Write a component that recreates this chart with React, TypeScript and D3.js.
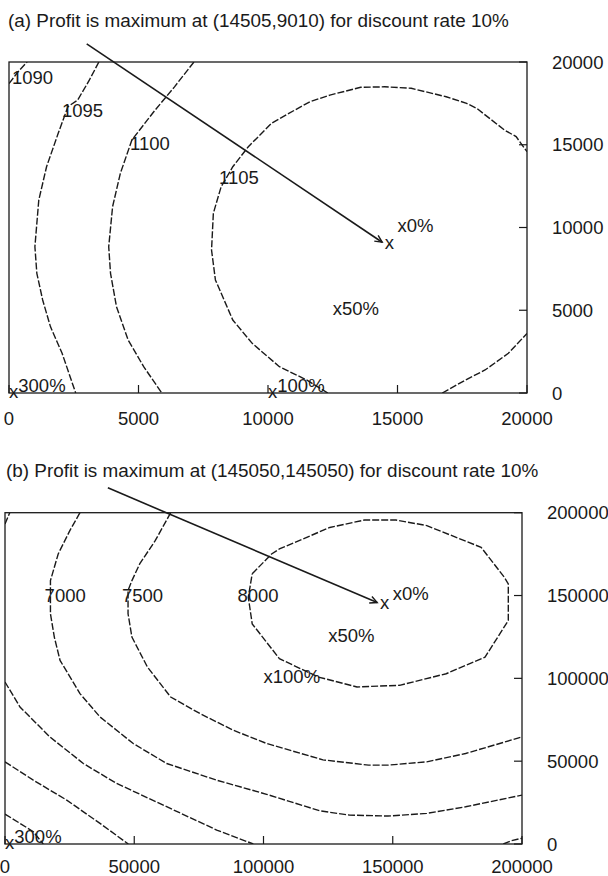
import React from "react";
import * as d3 from "d3";

// ---------- data ----------
const TITLE_A = "(a) Profit is maximum at (14505,9010) for discount rate 10%";
const TITLE_B = "(b) Profit is maximum at (145050,145050) for discount rate 10%";

const DOMAIN_A: [number, number] = [0, 20000];
const DOMAIN_B: [number, number] = [0, 200000];
const TICKS_A = [0, 5000, 10000, 15000, 20000];
const TICKS_B = [0, 50000, 100000, 150000, 200000];

// panel (a) contour lines (profit levels)
const A_1090 = [[0, 18700], [400, 19500], [700, 20000]];
const A_1095 = [
  [3470, 20000], [3100, 18900], [2650, 17700], [2275, 17300], [1900, 15690], [1450, 13670],
  [1150, 11660], [1000, 8840], [1075, 7230], [1300, 5620], [1600, 4010], [2050, 2400], [2575, 0],
];
const A_1100 = [
  [7140, 20000], [6390, 18500], [5645, 17100], [5345, 16500], [4745, 15290], [4300, 13275],
  [4000, 11260], [3850, 8840], [3920, 7230], [4150, 5215], [4600, 3200], [5200, 1590], [5900, 0],
];
const A_1105 = [
  [12310, 0], [11490, 790], [10440, 1590], [9390, 3000], [8640, 4410], [7970, 6830], [7820, 8640],
  [7890, 10860], [8190, 12460], [8640, 13670], [9240, 14880], [10140, 16300], [11040, 17100],
  [11620, 17600], [12390, 18000], [13580, 18470], [14500, 18500], [15530, 18410], [16880, 17900],
  [17670, 17500], [18060, 17200], [19130, 15890], [19580, 15490], [20000, 14580],
];
const A_1105_LOW = [[16730, 0], [17630, 790], [18380, 1390], [19280, 2400], [20000, 3600]];
const A_LINES = [A_1090, A_1095, A_1100, A_1105, A_1105_LOW];
const A_LEVEL_TEXT = ["1090", "1095", "1100", "1105"];
const A_LEVEL_POS = [[116, 19094], [2046, 17100], [4672, 15088], [8108, 13051]];

// panel (b) contour lines
const B_5500 = [[0, 18070], [5800, 12450], [10950, 7430], [14800, 0]];
const B_6000 = [[0, 49600], [10950, 38550], [23870, 26500], [36750, 12450], [47700, 0]];
const B_6500 = [
  [0, 97800], [5800, 82700], [17400, 64600], [30300, 48600], [43200, 36550], [62550, 22500],
  [81900, 8430], [96050, 0],
];
const B_6500_TOP = [[0, 193200], [1820, 200000]];
const B_6500_CORNER = [[192770, 0], [196000, 2000], [200000, 3500]];
const B_7000 = [
  [29000, 200000], [25080, 189200], [20580, 175100], [17580, 159000], [17580, 139000],
  [19080, 124900], [21300, 110840], [29000, 90800], [36750, 76700], [49600, 60660],
  [62550, 48600], [81900, 38500], [101200, 30000], [121850, 20000], [133150, 17470],
  [148160, 16870], [163170, 18490], [178180, 22470], [200000, 29500],
];
const B_7500 = [
  [64100, 200000], [58100, 183100], [52100, 169100], [49100, 159000], [47600, 153000],
  [47600, 139000], [49100, 124900], [55100, 106800], [64100, 88700], [75430, 78730],
  [88320, 68670], [101240, 60660], [123000, 50800], [140660, 47600], [148160, 47600],
  [163170, 49600], [178180, 54640], [200000, 64640],
];
const B_8000 = [
  [95630, 163100], [103130, 175100], [106150, 178100], [125650, 191100], [139150, 195600],
  [151180, 195600], [163180, 192200], [184180, 179100], [193190, 161000], [194700, 157000],
  [194700, 134900], [185690, 112800], [170680, 102800], [152650, 95800], [136170, 94800],
  [121160, 100800], [106150, 111900], [95630, 132900], [94120, 149000], [95630, 163100],
];
const B_LINES = [B_5500, B_6000, B_6500, B_6500_TOP, B_6500_CORNER, B_7000, B_7500, B_8000];
const B_LEVEL_TEXT = ["7000", "7500", "8000"];
const B_LEVEL_POS = [[15320, 150000], [45260, 150000], [89940, 150000]];

// optimum locations for several discount rates
const RATE_TEXT = ["0%", "50%", "100%", "300%"];
const A_RATE_POS = [[15000, 10000], [12500, 5000], [10000, 0], [0, 0]];
const B_RATE_POS = [[150000, 150000], [125000, 125000], [100000, 100000], [0, 0]];

const A_MAX = [14505, 9010];
const B_MAX = [145050, 145050];
const A_ARROW_FROM = [3000, 21100];
const B_ARROW_FROM = [39800, 215000];

// ---------- layout / style ----------
const W = 608;
const H = 876;
const FONT = "'Liberation Sans', Arial, Helvetica, sans-serif";
const FS = 18.5;
const FS_TITLE = 18.9;
const INK = "#1a1a1a";

type Layout = {
  left: number; right: number; top: number; bottom: number;
  titleX: number; titleY: number; xLabelDy: number;
};
const LAYOUT_A: Layout = { left: 9, right: 527, top: 62, bottom: 393, titleX: 8, titleY: 26.6, xLabelDy: 31.6 };
const LAYOUT_B: Layout = { left: 5, right: 522, top: 512.7, bottom: 844, titleX: 6, titleY: 476.6, xLabelDy: 29.3 };

type PanelProps = {
  id: string;
  layout: Layout;
  title: string;
  domain: [number, number];
  ticks: number[];
  lines: number[][][];
  levelText: string[];
  levelPos: number[][];
  ratePos: number[][];
  maxPt: number[];
  arrowFrom: number[];
};

function Panel(p: PanelProps) {
  const { layout: L } = p;
  const x = d3.scaleLinear().domain(p.domain).range([L.left, L.right]);
  const y = d3.scaleLinear().domain(p.domain).range([L.bottom, L.top]);
  const line = d3
    .line<number[]>()
    .x((d) => x(d[0]))
    .y((d) => y(d[1]))
    .curve(d3.curveLinear);

  // arrow geometry
  const ax0 = x(p.arrowFrom[0]);
  const ay0 = y(p.arrowFrom[1]);
  const mx = x(p.maxPt[0]);
  const my = y(p.maxPt[1]);
  const len = Math.hypot(mx - ax0, my - ay0);
  const ux = (mx - ax0) / len;
  const uy = (my - ay0) / len;
  const tipX = mx - ux * 3;
  const tipY = my - uy * 3;
  const head = 8;
  const ang = Math.atan2(uy, ux);
  const h1 = [tipX - head * Math.cos(ang - 0.45), tipY - head * Math.sin(ang - 0.45)];
  const h2 = [tipX - head * Math.cos(ang + 0.45), tipY - head * Math.sin(ang + 0.45)];
  const tickLen = 8;

  return (
    <g>
      <defs>
        <clipPath id={`clip-${p.id}`}>
          <rect x={L.left} y={L.top} width={L.right - L.left} height={L.bottom - L.top} />
        </clipPath>
      </defs>
      <text x={L.titleX} y={L.titleY} fontSize={FS_TITLE} fill={INK}>
        {p.title}
      </text>
      {/* contours */}
      <g clipPath={`url(#clip-${p.id})`}>
        {p.lines.map((pts, i) => (
          <path
            key={i}
            d={line(pts) || ""}
            fill="none"
            stroke={INK}
            strokeWidth={1.4}
            strokeDasharray="7 2"
          />
        ))}
      </g>
      {/* frame */}
      <rect
        x={L.left}
        y={L.top}
        width={L.right - L.left}
        height={L.bottom - L.top}
        fill="none"
        stroke={INK}
        strokeWidth={1.3}
      />
      {/* bottom axis ticks and labels */}
      {p.ticks.map((t) => (
        <g key={`bx${t}`}>
          <line x1={x(t)} x2={x(t)} y1={L.bottom} y2={L.bottom - tickLen} stroke={INK} strokeWidth={1.2} />
          <text x={x(t)} y={L.bottom + L.xLabelDy} fontSize={FS} fill={INK} textAnchor="middle">
            {t}
          </text>
        </g>
      ))}
      {/* right axis ticks and labels */}
      {p.ticks.map((t) => (
        <g key={`ry${t}`}>
          <line x1={L.right} x2={L.right - tickLen} y1={y(t)} y2={y(t)} stroke={INK} strokeWidth={1.2} />
          <text x={L.right + 25} y={y(t) + 6.6} fontSize={FS} fill={INK}>
            {t}
          </text>
        </g>
      ))}
      {/* level labels */}
      {p.levelText.map((s, i) => (
        <text key={`lv${i}`} x={x(p.levelPos[i][0])} y={y(p.levelPos[i][1]) + 6.6} fontSize={FS} fill={INK}>
          {s}
        </text>
      ))}
      {/* optimum markers for each discount rate */}
      {RATE_TEXT.map((s, i) => {
        const px = x(p.ratePos[i][0]);
        const py = y(p.ratePos[i][1]);
        const onEdge = p.ratePos[i][1] === 0;
        return (
          <g key={`r${i}`}>
            <text x={px} y={py + 4.8} fontSize={FS} fill={INK}>
              x
            </text>
            <text x={px + 9.3} y={onEdge ? py - 1.3 : py + 4.8} fontSize={FS} fill={INK}>
              {s}
            </text>
          </g>
        );
      })}
      {/* maximum at 10% */}
      <text x={mx} y={my + 4.8} fontSize={FS} fill={INK}>
        x
      </text>
      {/* arrow */}
      <line x1={ax0} y1={ay0} x2={tipX} y2={tipY} stroke={INK} strokeWidth={1.6} />
      <polyline
        points={`${h1[0]},${h1[1]} ${tipX},${tipY} ${h2[0]},${h2[1]}`}
        fill="none"
        stroke={INK}
        strokeWidth={1.4}
      />
    </g>
  );
}

export default function App() {
  return (
    <svg
      width={W}
      height={H}
      viewBox={`0 0 ${W} ${H}`}
      style={{ position: "absolute", left: 0, top: 0, background: "#fff", fontFamily: FONT }}
    >
      <rect x={0} y={0} width={W} height={H} fill="#fff" />
      <Panel
        id="a"
        layout={LAYOUT_A}
        title={TITLE_A}
        domain={DOMAIN_A}
        ticks={TICKS_A}
        lines={A_LINES}
        levelText={A_LEVEL_TEXT}
        levelPos={A_LEVEL_POS}
        ratePos={A_RATE_POS}
        maxPt={A_MAX}
        arrowFrom={A_ARROW_FROM}
      />
      <Panel
        id="b"
        layout={LAYOUT_B}
        title={TITLE_B}
        domain={DOMAIN_B}
        ticks={TICKS_B}
        lines={B_LINES}
        levelText={B_LEVEL_TEXT}
        levelPos={B_LEVEL_POS}
        ratePos={B_RATE_POS}
        maxPt={B_MAX}
        arrowFrom={B_ARROW_FROM}
      />
    </svg>
  );
}
